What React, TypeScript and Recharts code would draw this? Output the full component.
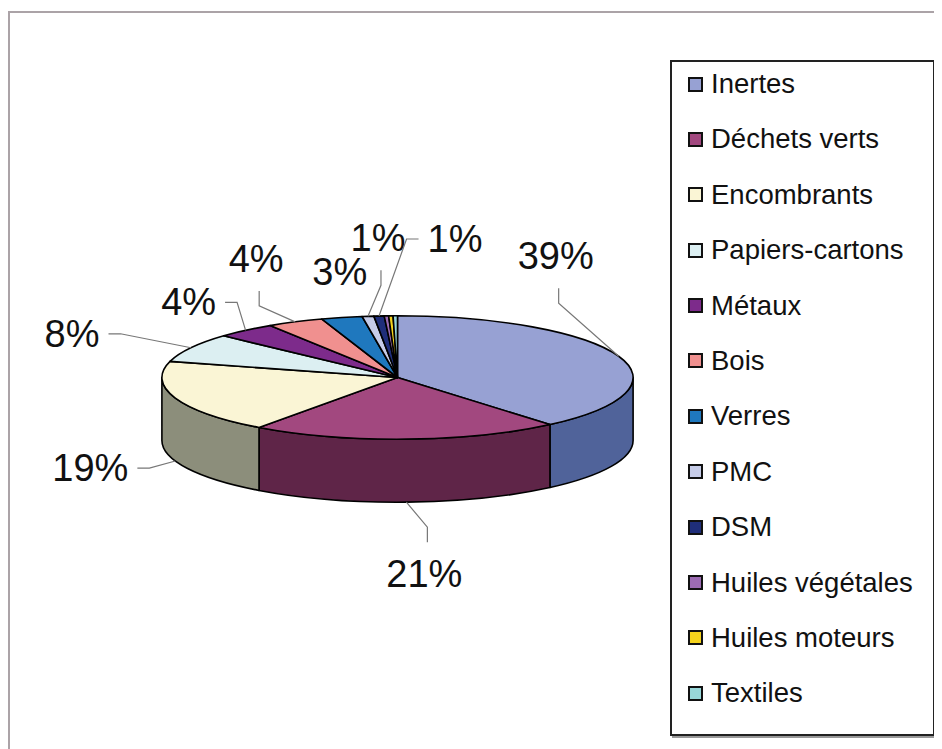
import React from 'react';
import { PieChart, Pie, Cell, Legend } from 'recharts';

const categories = [
  'Inertes',
  'Déchets verts',
  'Encombrants',
  'Papiers-cartons',
  'Métaux',
  'Bois',
  'Verres',
  'PMC',
  'DSM',
  'Huiles végétales',
  'Huiles moteurs',
  'Textiles',
];
const shares = [38.8, 21.2, 19.2, 7.6, 4.1, 3.9, 2.8, 0.8, 0.7, 0.3, 0.3, 0.3];

const topColors = [
  '#97A1D3', '#A2487F', '#FAF5D5', '#DCEFF2', '#7D2B8B', '#F0908F',
  '#1F78BE', '#C6CCE8', '#1F2E7A', '#9C6BB3', '#F5D31C', '#98D7D9',
];
const sideColors = [
  '#50639A', '#5F2548', '#8C8E7B', '#7E8F92', '#46184F', '#8C5352',
  '#12476F', '#747889', '#121B48', '#5B3E69', '#8F7B10', '#58807F',
];

// where each percentage sits, relative to the point of the pie its leader line touches
const labelNudges = [
  [-63, -100], [18, 72], [-85, 7], [-119, -14], [-57, -28], [-39, -63],
  [-2, -46], [10, -78], [76, -77], [0, -70], [0, -70], [0, -70],
];

const data = categories.map((name, i) => ({ name, value: shares[i] }));

const W = 934;
const H = 741;
const CX = 389.5;
const CY = 369.5;
const RX = 235.6;
const TILT = 61.7 / 235.6; // ry / rx
const THICK = 63 / 235.6; // wall height / rx
const RAD = Math.PI / 180;
const LABEL_SIZE = 38;

function onEllipse(cx: number, cy: number, rx: number, angle: number, drop = 0) {
  return [cx + rx * Math.cos(angle * RAD), cy - rx * TILT * Math.sin(angle * RAD) + drop];
}

function Slice3D(props: any) {
  const { cx, cy, outerRadius, startAngle, endAngle, fill } = props;
  const name = props.payload?.name ?? props.name;
  const idx = categories.indexOf(name);
  const rx = outerRadius;
  const ry = rx * TILT;
  const depth = rx * THICK;
  const [sx, sy] = onEllipse(cx, cy, rx, startAngle);
  const [ex, ey] = onEllipse(cx, cy, rx, endAngle);
  const large = Math.abs(startAngle - endAngle) > 180 ? 1 : 0;
  const top = `M${cx},${cy} L${sx},${sy} A${rx},${ry} 0 ${large} 1 ${ex},${ey} Z`;

  // visible front wall: angles between 0 and -180
  const hi = Math.min(startAngle, 0);
  const lo = Math.max(endAngle, -180);
  let wall = null;
  if (hi > lo) {
    const [ax, ay] = onEllipse(cx, cy, rx, hi);
    const [bx, by] = onEllipse(cx, cy, rx, lo);
    const d = `M${ax},${ay} A${rx},${ry} 0 0 1 ${bx},${by} L${bx},${by + depth} A${rx},${ry} 0 0 0 ${ax},${ay + depth} Z`;
    wall = <path d={d} fill={sideColors[idx] ?? fill} stroke="#000" strokeWidth={1.6} strokeLinejoin="round" />;
  }
  return (
    <g>
      {wall}
      <path d={top} fill={fill} stroke="#000" strokeWidth={1.6} strokeLinejoin="round" />
    </g>
  );
}

function SliceLabel(props: any) {
  const { cx, cy, outerRadius, midAngle, percent, index } = props;
  const pct = Math.round(percent * 100);
  if (pct < 1) return null;
  const text = `${pct}%`;
  const rx = outerRadius;
  const front = Math.sin(midAngle * RAD) < 0;
  const [px, py] = onEllipse(cx, cy, rx, midAngle, front ? rx * THICK : 0);
  const [dx, dy] = labelNudges[index] ?? [0, -60];
  const lx = px + dx;
  const ly = py + dy;
  const w = (String(pct).length * 0.556 + 0.889) * LABEL_SIZE;
  const h = 30;

  let pts: number[][] = [];
  if (Math.abs(dx) >= 0.9 * Math.abs(dy)) {
    const sgn = dx < 0 ? 1 : -1;
    const x0 = lx + sgn * (w / 2 + 9);
    pts = [[x0, ly], [x0 + sgn * 12, ly], [px, py]];
  } else {
    const sgn = dy < 0 ? 1 : -1;
    const y0 = ly + sgn * (h / 2 + 17);
    pts = [[lx + 3, y0], [lx + 3, y0 + sgn * 15], [px, py]];
  }
  const gap = Math.hypot(pts[0][0] - px, pts[0][1] - py);
  return (
    <g>
      {gap > 30 && (
        <polyline
          points={pts.map((p) => p.join(',')).join(' ')}
          fill="none"
          stroke="#777"
          strokeWidth={1.2}
        />
      )}
      <text
        x={lx}
        y={ly}
        textAnchor="middle"
        dominantBaseline="central"
        fontFamily="'Liberation Sans', Arial, sans-serif"
        fontSize={LABEL_SIZE}
        fill="#111"
      >
        {text}
      </text>
    </g>
  );
}

function LegendBox(props: any) {
  const fromChart =
    props.payload && props.payload.length
      ? props.payload.map((p: any) => ({ label: p.value, color: p.color }))
      : categories.map((c, i) => ({ label: c, color: topColors[i] }));
  // keep the order of the slices, not alphabetical
  const items = [...fromChart].sort(
    (a: any, b: any) => categories.indexOf(a.label) - categories.indexOf(b.label)
  );
  return (
    <div
      style={{
        boxSizing: 'border-box',
        width: 265,
        height: 676,
        border: '2px solid #222',
        boxShadow: '2px 2px 0 #999',
        background: '#fff',
        paddingLeft: 16,
      }}
    >
      {items.map((it: any) => (
        <div
          key={it.label}
          style={{
            display: 'flex',
            alignItems: 'center',
            height: 44,
            marginBottom: 11.4,
            fontFamily: "'Liberation Sans', Arial, sans-serif",
            fontSize: 27.5,
            color: '#111',
            whiteSpace: 'nowrap',
          }}
        >
          <span
            style={{
              display: 'inline-block',
              boxSizing: 'border-box',
              width: 15,
              height: 15,
              background: it.color,
              border: '2px solid #111',
              marginRight: 8,
            }}
          />
          {it.label}
        </div>
      ))}
    </div>
  );
}

export default function App() {
  return (
    <div style={{ position: 'relative', width: W, height: H, background: '#fff' }}>
      <div
        style={{
          position: 'absolute',
          left: 0,
          top: 3,
          width: W,
          height: H - 3,
          boxSizing: 'border-box',
          borderTop: '2px solid #ABA3A7',
          borderLeft: '2px solid #ABA3A7',
        }}
      />
      <PieChart width={W} height={H} margin={{ top: 0, right: 0, bottom: 0, left: 0 }} style={{ position: 'absolute', left: 0, top: 0 }}>
        <Pie
          data={data}
          dataKey="value"
          nameKey="name"
          cx={CX}
          cy={CY}
          outerRadius={RX}
          startAngle={90}
          endAngle={-270}
          stroke="#000"
          legendType="square"
          shape={Slice3D}
          label={SliceLabel}
          labelLine={false}
          isAnimationActive={false}
        >
          {data.map((d, i) => (
            <Cell key={d.name} fill={topColors[i]} />
          ))}
        </Pie>
        <Legend
          layout="vertical"
          align="right"
          verticalAlign="top"
          content={<LegendBox />}
          wrapperStyle={{ left: 662, top: 52, width: 265, height: 676 }}
        />
      </PieChart>
    </div>
  );
}
